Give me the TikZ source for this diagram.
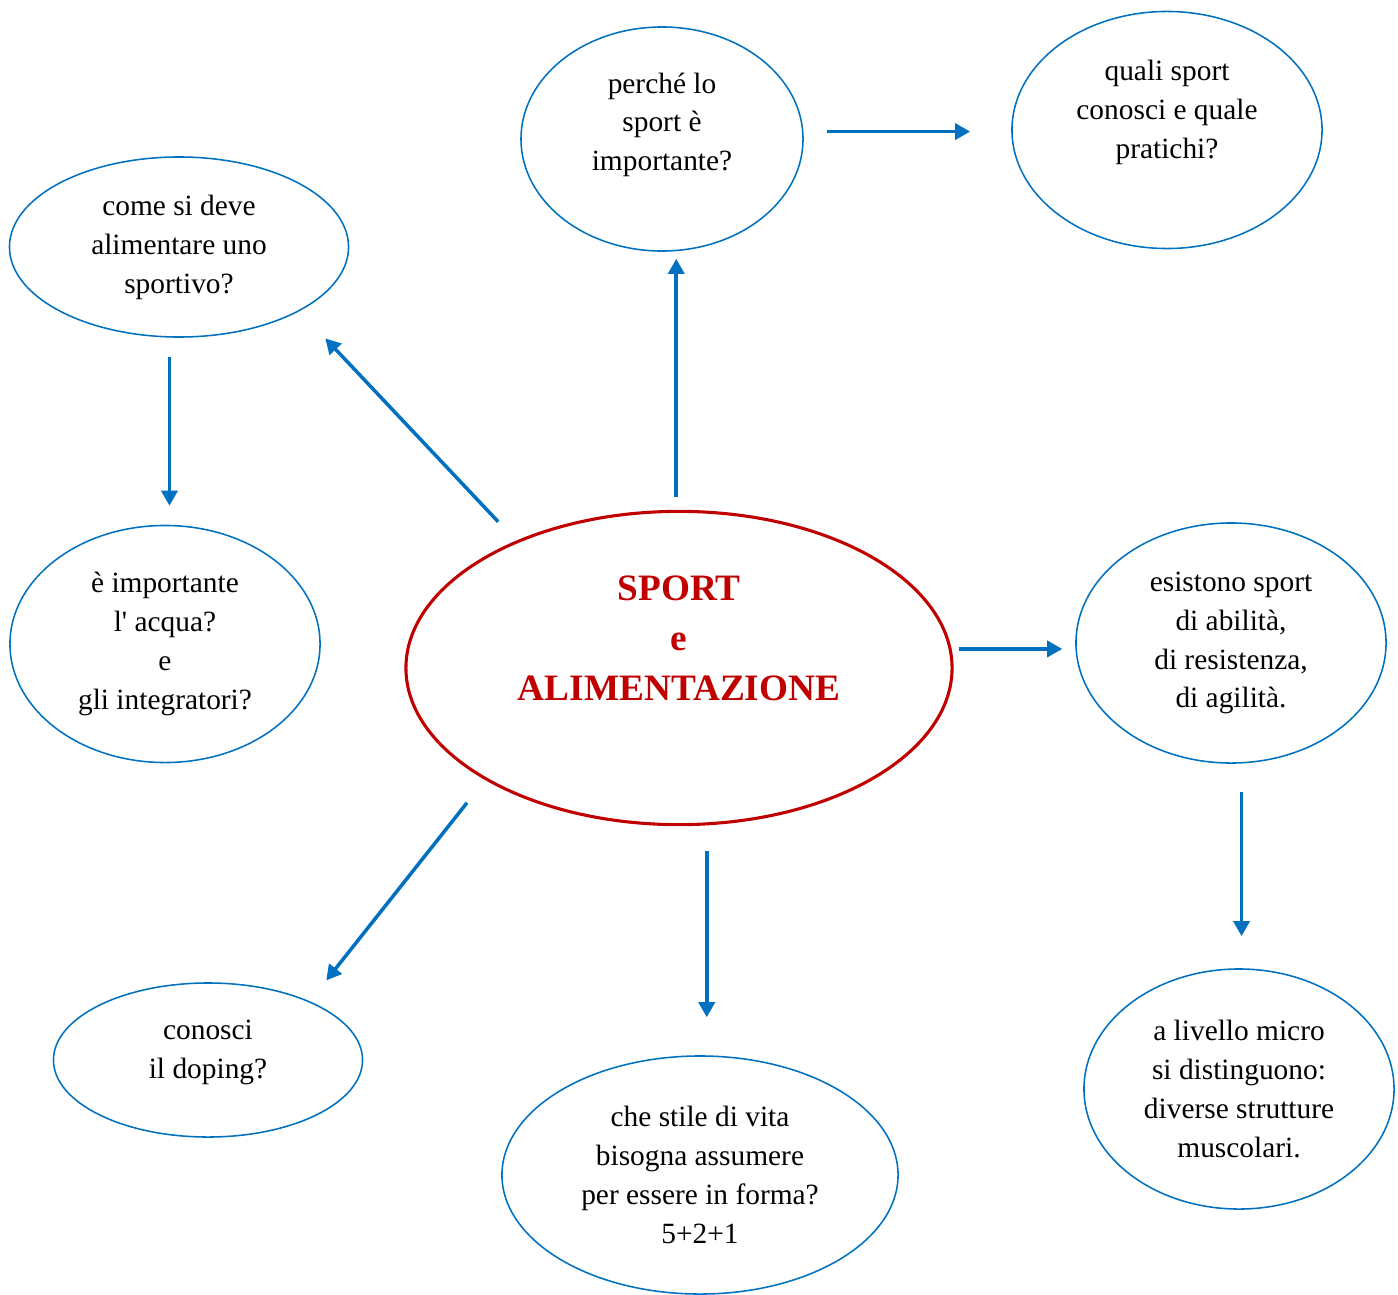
\documentclass[tikz,border=0pt]{standalone}
\usepackage{fontspec}
\setmainfont{Liberation Serif}
\usepackage{xcolor}
\usetikzlibrary{arrows.meta,shapes.geometric}

\definecolor{mapblue}{RGB}{0,112,192}
\definecolor{mapred}{RGB}{192,0,0}

\begin{document}
\begin{tikzpicture}[
    x=0.025cm, y=-0.025cm,
    bubble/.style={ellipse, draw=mapblue, line width=1.1pt, inner sep=0pt,
      align=center, font=\fontsize{20.9}{27.7}\selectfont},
    hub/.style={ellipse, draw=mapred, line width=2.2pt, inner sep=0pt,
      align=center, text=mapred,
      font=\fontsize{26.5}{35.5}\selectfont\bfseries},
    link/.style={draw=mapblue, line width=2.5pt,
      -{Triangle[length=10.7pt, width=11.4pt]}}
]
\useasboundingbox (0,0) rectangle (1398,1294);

% ---- central topic ----
\node[hub, minimum width=13.65cm, minimum height=7.83cm, text depth=42.7pt]
  (main) at (679,668) {SPORT\\e\\ALIMENTAZIONE};

% ---- question bubbles ----
\node[bubble, minimum width=7.05cm, minimum height=5.6cm, text depth=24.5pt]
  (why) at (662,139) {perché lo\\sport è\\importante?};
\node[bubble, minimum width=7.75cm, minimum height=5.925cm, text depth=29.5pt]
  (which) at (1167,130) {quali sport\\conosci e quale\\pratichi?};
\node[bubble, minimum width=8.475cm, minimum height=4.5cm]
  (food) at (179,247) {come si deve\\alimentare uno\\sportivo?};
\node[bubble, minimum width=7.75cm, minimum height=5.925cm]
  (water) at (165,644)
  {è importante\\l\textquotesingle{} acqua?\\e\\gli integratori?};
\node[bubble, minimum width=7.75cm, minimum height=6cm]
  (kinds) at (1231,643) {esistono sport\\di abilità,\\di resistenza,\\di agilità.};
\node[bubble, minimum width=7.75cm, minimum height=6cm]
  (micro) at (1239,1089) {a livello micro\\si distinguono:\\diverse strutture\\muscolari.};
\node[bubble, minimum width=7.725cm, minimum height=3.85cm, text depth=15.5pt]
  (doping) at (208,1060) {conosci\\il doping?};
\node[bubble, minimum width=9.9cm, minimum height=5.95cm]
  (life) at (700,1175) {che stile di vita\\bisogna assumere\\per essere in forma?\\5+2+1};

% ---- arrows ----
\draw[link, shorten <=9.2pt, shorten >=5pt]
  (main.91) -- (main.91 |- why.south);
\draw[link, shorten <=16.4pt, shorten >=29.2pt]
  (why.3) -- (why.3 -| which.west);
\draw[link, shorten <=18.5pt, shorten >=26.7pt]
  (main.142) -- (food.-28);
\draw[link, shorten <=13.5pt, shorten >=13.5pt]
  (food.-96) -- (food.-96 |- water.north);
\draw[link, shorten <=5pt, shorten >=9.2pt]
  (main.4) -- (main.4 -| kinds.west);
\draw[link, shorten <=20pt, shorten >=22.8pt]
  (kinds.-85) -- (kinds.-85 |- micro.north);
\draw[link, shorten <=20.7pt, shorten >=18.9pt]
  (main.210) -- (doping.30);
\draw[link, shorten <=18.5pt, shorten >=27pt]
  (main.-80) -- (main.-80 |- life.north);

\end{tikzpicture}
\end{document}
